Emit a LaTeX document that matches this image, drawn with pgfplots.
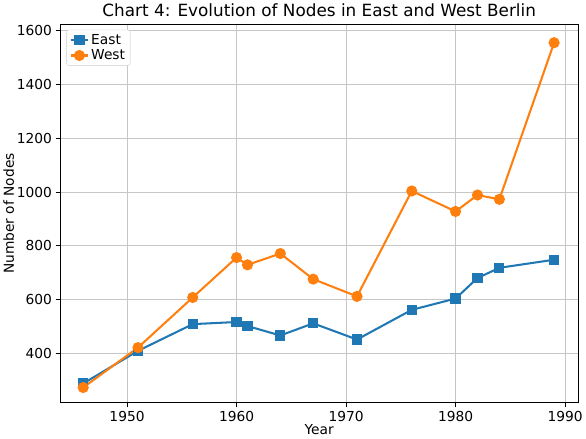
\documentclass[border=0pt]{standalone}
\usepackage{pgfplots}
\pgfplotsset{compat=1.18}
\usepackage{fontspec}
\setmainfont{DejaVu Sans}
\definecolor{c1}{HTML}{1F77B4}
\definecolor{c2}{HTML}{FF7F0E}
\begin{document}
\begin{tikzpicture}
\begin{axis}[
 width=506bp, height=370bp, scale only axis,
 font=\fontsize{13.5}{16}\selectfont,
 /pgf/number format/assume math mode=true,
 /pgf/number format/set thousands separator={},
 title={\fontsize{16.5}{19}\selectfont Chart 4: Evolution of Nodes in East and West Berlin},
 title style={yshift=-2bp},
 xlabel={Year}, ylabel={Number of Nodes},
 xlabel style={yshift=4bp}, ylabel style={yshift=-4bp},
 xmin=1943.9, xmax=1991.2, ymin=218, ymax=1623,
 xtick={1950,1960,1970,1980,1990},
 ytick={400,600,800,1000,1200,1400,1600},
 grid=major, grid style={gray!45, line width=1bp},
 axis line style={line width=1bp},
 tick style={line width=1bp, black}, major tick length=4.5bp,
 tick align=outside, tick pos=left,
 legend pos=north west, legend cell align=left,
 legend style={draw=gray!40, rounded corners=2pt, font=\fontsize{13.5}{16}\selectfont, at={(0.012,0.985)}},
]
\addplot[c1, line width=2bp, mark=square*, mark size=4bp] coordinates {
(1946,290)(1951,411)(1956,510)(1960,518)(1961,503)(1964,468)(1967,513)(1971,453)(1976,563)(1980,605)(1982,681)(1984,719)(1989,749)};
\addlegendentry{East}
\addplot[c2, line width=2bp, mark=*, mark size=4.4bp] coordinates {
(1946,275)(1951,423)(1956,609)(1960,757)(1961,730)(1964,772)(1967,677)(1971,613)(1976,1004)(1980,928)(1982,989)(1984,973)(1989,1554)};
\addlegendentry{West}
\end{axis}
\end{tikzpicture}
\end{document}
